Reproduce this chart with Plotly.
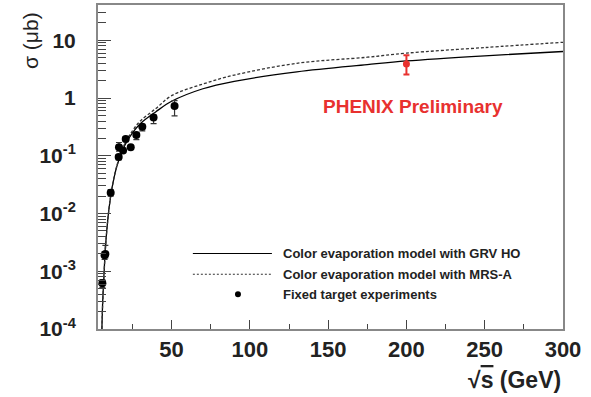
import plotly.graph_objects as go

# ---- data ----
grv_x = [5.5, 6, 7, 8, 10, 12, 15, 20, 25, 30, 40, 50, 70, 90, 130, 175, 200, 250, 300]
grv_y = [1e-4, 3e-4, 1.1e-3, 3.2e-3, 0.012, 0.028, 0.065, 0.15, 0.25, 0.36, 0.58, 0.88, 1.45, 1.95, 2.85, 3.8, 4.4, 5.4, 6.4]

mrs_x = [5.5, 6, 7, 8, 10, 12, 15, 20, 25, 30, 40, 50, 70, 90, 130, 175, 200, 250, 300]
mrs_y = [1e-4, 2.8e-4, 1.05e-3, 3.1e-3, 0.012, 0.028, 0.067, 0.16, 0.27, 0.4, 0.66, 1.1, 1.75, 2.5, 4.0, 5.1, 6.0, 7.5, 9.25]

fixed_x = [5.8, 7.2, 7.7, 11.1, 16.2, 16.4, 19.0, 20.7, 23.9, 27.5, 31.3, 38.5, 51.9]
fixed_y = [0.00062, 0.0019, 0.0020, 0.023, 0.095, 0.14, 0.123, 0.195, 0.14, 0.23, 0.32, 0.46, 0.73]
fixed_err_up = [0.0001, 0.0003, 0.0008, 0.003, 0.01, 0.03, 0.01, 0.02, 0.01, 0.02, 0.03, 0.05, 0.17]
fixed_err_dn = [0.0001, 0.0003, 0.0003, 0.003, 0.01, 0.02, 0.01, 0.02, 0.01, 0.04, 0.05, 0.1, 0.24]

phenix_x = [200]
phenix_y = [3.9]
phenix_err_up = [1.6]
phenix_err_dn = [1.35]

ytick_vals = [1e-4, 1e-3, 1e-2, 1e-1, 1, 10]
ytick_text = ["10<sup>-4</sup>", "10<sup>-3</sup>", "10<sup>-2</sup>", "10<sup>-1</sup>", "1", "10"]
xtick_vals = [50, 100, 150, 200, 250, 300]

legend_labels = ["Color evaporation model with GRV HO",
                 "Color evaporation model with MRS-A",
                 "Fixed target experiments"]

FONT = "Liberation Sans, Arial, sans-serif"

fig = go.Figure()
fig.add_trace(go.Scatter(x=grv_x, y=grv_y, mode="lines", line=dict(color="black", width=1.3, shape="spline"),
                         name=legend_labels[0], showlegend=False))
fig.add_trace(go.Scatter(x=mrs_x, y=mrs_y, mode="lines", line=dict(color="#333", width=1.3, dash="3px,2px", shape="spline"),
                         name=legend_labels[1], showlegend=False))
fig.add_trace(go.Scatter(x=fixed_x, y=fixed_y, mode="markers",
                         marker=dict(color="black", size=8),
                         error_y=dict(type="data", symmetric=False, array=fixed_err_up, arrayminus=fixed_err_dn,
                                      color="#333", thickness=1.2, width=3),
                         name=legend_labels[2], showlegend=False))
fig.add_trace(go.Scatter(x=phenix_x, y=phenix_y, mode="markers",
                         marker=dict(color="#e8312f", size=7),
                         error_y=dict(type="data", symmetric=False, array=phenix_err_up, arrayminus=phenix_err_dn,
                                      color="#e8312f", thickness=2, width=3),
                         name="PHENIX", showlegend=False))

fig.update_xaxes(range=[3, 300], tickvals=xtick_vals, ticks="inside", ticklen=9, tickwidth=1, tickcolor="#444",
                 minor=dict(dtick=25, tick0=0, ticks="inside", ticklen=5, tickcolor="#444"),
                 showline=True, linecolor="#888", linewidth=2, mirror=True, showgrid=False, zeroline=False,
                 tickfont=dict(family=FONT, size=22, color="#222", weight="bold"), ticklabelstandoff=0)
fig.update_yaxes(type="log", range=[-4, 1.612], tickvals=ytick_vals, ticktext=ytick_text,
                 ticks="inside", ticklen=13, tickwidth=1, tickcolor="#444",
                 minor=dict(dtick="D1", ticks="inside", ticklen=8, tickcolor="#444"),
                 showline=True, linecolor="#888", linewidth=2, mirror=True, showgrid=False, zeroline=False,
                 tickfont=dict(family=FONT, size=21, color="#222", weight="bold"), ticklabelstandoff=16)

# legend drawn manually (long line samples)
shapes = [
    dict(type="line", xref="paper", yref="paper", x0=0.204, x1=0.374, y0=0.233, y1=0.233,
         line=dict(color="black", width=1.2)),
    dict(type="line", xref="paper", yref="paper", x0=0.204, x1=0.374, y0=0.169, y1=0.169,
         line=dict(color="#333", width=1.2, dash="2px,2px")),
    dict(type="circle", xref="paper", yref="paper", xsizemode="pixel", ysizemode="pixel",
         xanchor=0.301, yanchor=0.107, x0=-3, x1=3, y0=-3, y1=3,
         fillcolor="black", line=dict(color="black", width=0)),
]
annotations = []
for lab, yy in zip(legend_labels, [0.233, 0.169, 0.107]):
    annotations.append(dict(text=lab, xref="paper", yref="paper", x=0.394, y=yy, xanchor="left", yanchor="middle",
                            showarrow=False, font=dict(family=FONT, size=13, color="#222", weight="bold")))
annotations.append(dict(text="PHENIX Preliminary", xref="paper", yref="paper", x=0.677, y=0.687,
                        xanchor="center", yanchor="middle", showarrow=False,
                        font=dict(family=FONT, size=19, color="#e8312f", weight="bold")))
annotations.append(dict(text="√<span style='text-decoration:overline'>s</span> (GeV)",
                        xref="paper", yref="paper", x=1.0, y=-0.157, xanchor="right",
                        yanchor="middle", showarrow=False,
                        font=dict(family=FONT, size=23, color="#222", weight="bold")))
annotations.append(dict(text="σ (μb)", xref="paper", yref="paper", x=-0.145, y=0.985, xanchor="center",
                        yanchor="top", textangle=-90, showarrow=False,
                        font=dict(family=FONT, size=21, color="#222")))

fig.update_layout(width=591, height=397, margin=dict(l=98, r=28, t=3, b=68),
                  paper_bgcolor="white", plot_bgcolor="white", showlegend=False,
                  shapes=shapes, annotations=annotations)

fig.write_html("out.html")
